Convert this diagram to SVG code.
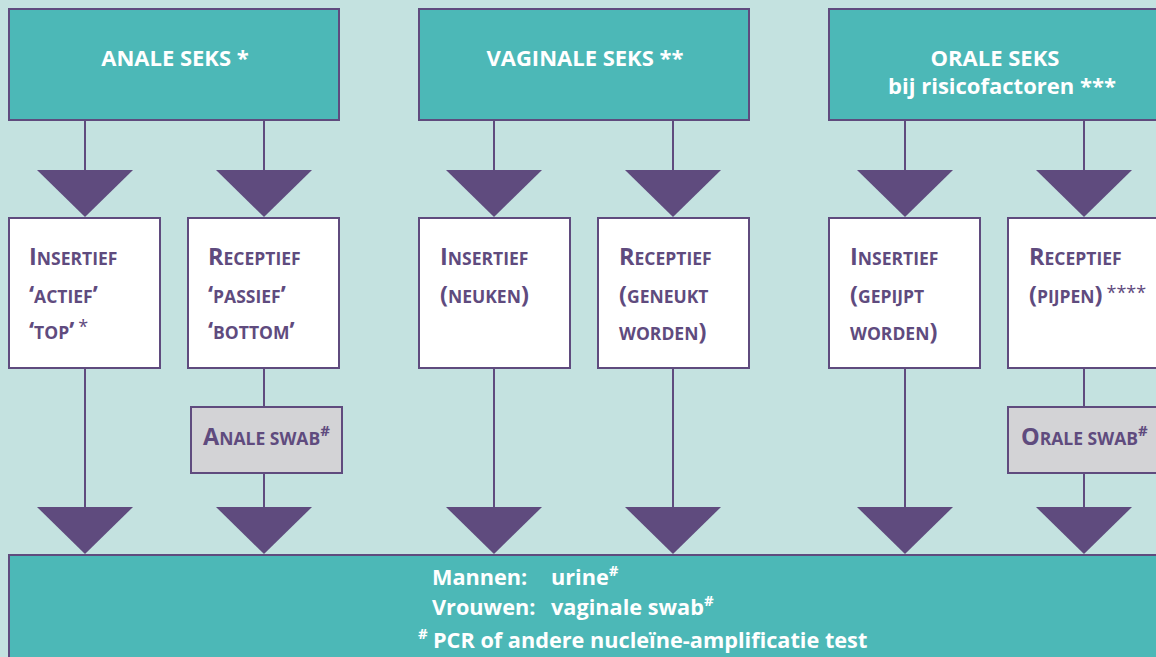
<svg xmlns="http://www.w3.org/2000/svg" width="1156" height="657" viewBox="0 0 1156 657">
<style>
.bg{fill:#c4e2e0}
.head{fill:#4cb8b7;stroke:#5f4b7e;stroke-width:2}
.card{fill:#ffffff;stroke:#5f4b7e;stroke-width:2}
.swab{fill:#d3d3d6;stroke:#5f4b7e;stroke-width:2}
.ln{stroke:#5f4b7e;stroke-width:2;fill:none}
.tri{fill:#5f4b7e}
.wt{font-family:"Open Sans","Liberation Sans",sans-serif;font-weight:bold;fill:#ffffff;font-size:22px}
.pt{font-family:"Open Sans","Liberation Sans",sans-serif;font-weight:bold;fill:#5f4b7e;font-size:17.5px}
.big{font-size:23.5px}
.sup{font-size:15px}
.ast{font-weight:normal;font-size:18px}
.bt{font-family:"Open Sans","Liberation Sans",sans-serif;font-weight:bold;fill:#ffffff;font-size:21.7px}
</style>
<rect class="bg" x="0" y="0" width="1156" height="657"/>
<g id="connectors">
<line class="ln" x1="85" y1="120" x2="85" y2="171"/>
<line class="ln" x1="264" y1="120" x2="264" y2="171"/>
<line class="ln" x1="494" y1="120" x2="494" y2="171"/>
<line class="ln" x1="673" y1="120" x2="673" y2="171"/>
<line class="ln" x1="905" y1="120" x2="905" y2="171"/>
<line class="ln" x1="1084" y1="120" x2="1084" y2="171"/>
<polygon class="tri" points="37,170 133,170 85,217"/>
<polygon class="tri" points="216,170 312,170 264,217"/>
<polygon class="tri" points="446,170 542,170 494,217"/>
<polygon class="tri" points="625,170 721,170 673,217"/>
<polygon class="tri" points="857,170 953,170 905,217"/>
<polygon class="tri" points="1036,170 1132,170 1084,217"/>
<line class="ln" x1="85" y1="368" x2="85" y2="508"/>
<line class="ln" x1="264" y1="368" x2="264" y2="407"/>
<line class="ln" x1="264" y1="473" x2="264" y2="508"/>
<line class="ln" x1="494" y1="368" x2="494" y2="508"/>
<line class="ln" x1="673" y1="368" x2="673" y2="508"/>
<line class="ln" x1="905" y1="368" x2="905" y2="508"/>
<line class="ln" x1="1084" y1="368" x2="1084" y2="407"/>
<line class="ln" x1="1084" y1="473" x2="1084" y2="508"/>
<polygon class="tri" points="37,507 133,507 85,554"/>
<polygon class="tri" points="216,507 312,507 264,554"/>
<polygon class="tri" points="446,507 542,507 494,554"/>
<polygon class="tri" points="625,507 721,507 673,554"/>
<polygon class="tri" points="857,507 953,507 905,554"/>
<polygon class="tri" points="1036,507 1132,507 1084,554"/>
</g>
<g id="anale-seks">
<rect class="head" x="9" y="9" width="330" height="111"/>
<text class="wt" x="175" y="66" text-anchor="middle">ANALE SEKS *</text>
</g>
<g id="vaginale-seks">
<rect class="head" x="419" y="9" width="330" height="111"/>
<text class="wt" x="585" y="66" text-anchor="middle">VAGINALE SEKS **</text>
</g>
<g id="orale-seks">
<rect class="head" x="829" y="9" width="340" height="111"/>
<text class="wt" x="995" y="66" text-anchor="middle">ORALE SEKS</text>
<text class="wt" x="1002" y="94" text-anchor="middle">bij risicofactoren ***</text>
</g>
<g id="anaal-insertief">
<rect class="card" x="9" y="218" width="151" height="150"/>
<text class="pt" x="29" y="265"><tspan class="big">I</tspan>NSERTIEF</text>
<text class="pt" x="29" y="303"><tspan class="big">‘</tspan>ACTIEF<tspan class="big">’</tspan></text>
<text class="pt" x="29" y="339"><tspan class="big">‘</tspan>TOP<tspan class="big">’</tspan><tspan class="ast" dx="4" dy="-6">*</tspan></text>
</g>
<g id="anaal-receptief">
<rect class="card" x="188" y="218" width="151" height="150"/>
<text class="pt" x="208" y="265"><tspan class="big">R</tspan>ECEPTIEF</text>
<text class="pt" x="208" y="303"><tspan class="big">‘</tspan>PASSIEF<tspan class="big">’</tspan></text>
<text class="pt" x="208" y="339"><tspan class="big">‘</tspan>BOTTOM<tspan class="big">’</tspan></text>
</g>
<g id="vaginaal-insertief">
<rect class="card" x="419" y="218" width="151" height="150"/>
<text class="pt" x="440" y="265"><tspan class="big">I</tspan>NSERTIEF</text>
<text class="pt" x="440" y="303"><tspan class="big">(</tspan>NEUKEN<tspan class="big">)</tspan></text>
</g>
<g id="vaginaal-receptief">
<rect class="card" x="598" y="218" width="151" height="150"/>
<text class="pt" x="619" y="265"><tspan class="big">R</tspan>ECEPTIEF</text>
<text class="pt" x="619" y="303"><tspan class="big">(</tspan>GENEUKT</text>
<text class="pt" x="619" y="340">WORDEN<tspan class="big">)</tspan></text>
</g>
<g id="oraal-insertief">
<rect class="card" x="829" y="218" width="151" height="150"/>
<text class="pt" x="850" y="265"><tspan class="big">I</tspan>NSERTIEF</text>
<text class="pt" x="850" y="303"><tspan class="big">(</tspan>GEPIJPT</text>
<text class="pt" x="850" y="340">WORDEN<tspan class="big">)</tspan></text>
</g>
<g id="oraal-receptief">
<rect class="card" x="1008" y="218" width="160" height="150"/>
<text class="pt" x="1029" y="265"><tspan class="big">R</tspan>ECEPTIEF</text>
<text class="pt" x="1029" y="303"><tspan class="big">(</tspan>PIJPEN<tspan class="big">)</tspan><tspan class="ast" dx="4" dy="-4">****</tspan></text>
</g>
<g id="anale-swab">
<rect class="swab" x="191" y="407" width="151" height="66"/>
<text class="pt" x="203" y="445"><tspan class="big">A</tspan>NALE SWAB<tspan class="sup" dy="-9">#</tspan></text>
</g>
<g id="orale-swab">
<rect class="swab" x="1008" y="407" width="160" height="66"/>
<text class="pt" x="1021" y="445"><tspan class="big">O</tspan>RALE SWAB<tspan class="sup" dy="-9">#</tspan></text>
</g>
<g id="test">
<rect class="head" x="9" y="555" width="1160" height="110"/>
<text class="bt" x="432" y="585">Mannen:</text>
<text class="bt" x="551" y="585">urine<tspan class="sup" dy="-9">#</tspan></text>
<text class="bt" x="432" y="615">Vrouwen:</text>
<text class="bt" x="551" y="615">vaginale swab<tspan class="sup" dy="-9">#</tspan></text>
<text class="bt" x="418" y="648"><tspan class="sup" dy="-9">#</tspan><tspan x="433" dy="9">PCR of andere nucleïne-amplificatie test</tspan></text>
</g>
</svg>
